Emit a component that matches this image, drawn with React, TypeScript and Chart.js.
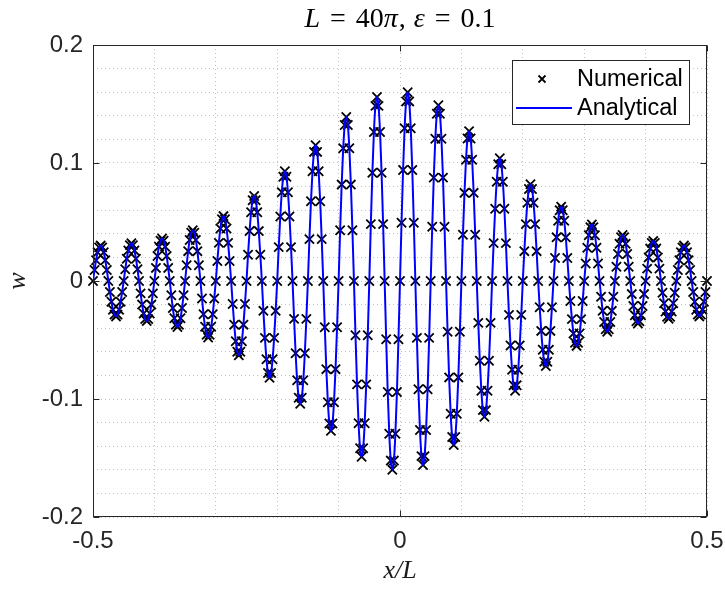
import React, { useEffect, useRef } from 'react';
import { Chart, registerables } from 'chart.js';

Chart.register(...registerables);

// Sample grid along x/L (uniform sampling of the numerical solution)
const xStart = -0.5;
const xStep = 0.0025;

// w values, one row per half-wave
const wValues: number[] = [
  0, 0.0093, 0.0176, 0.0243, 0.0285, 0.0300, 0.0285, 0.0243, 0.0176, 0.0093,
  0, -0.0093, -0.0176, -0.0243, -0.0285, -0.0300, -0.0285, -0.0243, -0.0176, -0.0093,
  0, 0.0099, 0.0188, 0.0259, 0.0304, 0.0320, 0.0304, 0.0259, 0.0188, 0.0099,
  0, -0.0105, -0.0200, -0.0275, -0.0323, -0.0340, -0.0323, -0.0275, -0.0200, -0.0105,
  0, 0.0111, 0.0212, 0.0291, 0.0342, 0.0360, 0.0342, 0.0291, 0.0212, 0.0111,
  0, -0.0121, -0.0229, -0.0316, -0.0371, -0.0390, -0.0371, -0.0316, -0.0229, -0.0121,
  0, 0.0133, 0.0253, 0.0348, 0.0409, 0.0430, 0.0409, 0.0348, 0.0253, 0.0133,
  0, -0.0148, -0.0282, -0.0388, -0.0456, -0.0480, -0.0456, -0.0388, -0.0282, -0.0148,
  0, 0.0170, 0.0323, 0.0445, 0.0523, 0.0550, 0.0523, 0.0445, 0.0323, 0.0170,
  0, -0.0195, -0.0370, -0.0510, -0.0599, -0.0630, -0.0599, -0.0510, -0.0370, -0.0195,
  0, 0.0222, 0.0423, 0.0582, 0.0685, 0.0720, 0.0685, 0.0582, 0.0423, 0.0222,
  0, -0.0253, -0.0482, -0.0663, -0.0780, -0.0820, -0.0780, -0.0663, -0.0482, -0.0253,
  0, 0.0287, 0.0547, 0.0752, 0.0884, 0.0930, 0.0884, 0.0752, 0.0547, 0.0287,
  0, -0.0321, -0.0612, -0.0841, -0.0989, -0.1040, -0.0989, -0.0841, -0.0612, -0.0321,
  0, 0.0355, 0.0676, 0.0930, 0.1094, 0.1150, 0.1094, 0.0930, 0.0676, 0.0355,
  0, -0.0392, -0.0747, -0.1027, -0.1208, -0.1270, -0.1208, -0.1027, -0.0747, -0.0392,
  0, 0.0430, 0.0817, 0.1125, 0.1322, 0.1390, 0.1322, 0.1125, 0.0817, 0.0430,
  0, -0.0460, -0.0876, -0.1205, -0.1417, -0.1490, -0.1417, -0.1205, -0.0876, -0.0460,
  0, 0.0482, 0.0917, 0.1262, 0.1484, 0.1560, 0.1484, 0.1262, 0.0917, 0.0482,
  0, -0.0494, -0.0941, -0.1294, -0.1522, -0.1600, -0.1522, -0.1294, -0.0941, -0.0494,
  0, 0.0494, 0.0941, 0.1294, 0.1522, 0.1600, 0.1522, 0.1294, 0.0941, 0.0494,
  0, -0.0482, -0.0917, -0.1262, -0.1484, -0.1560, -0.1484, -0.1262, -0.0917, -0.0482,
  0, 0.0460, 0.0876, 0.1205, 0.1417, 0.1490, 0.1417, 0.1205, 0.0876, 0.0460,
  0, -0.0430, -0.0817, -0.1125, -0.1322, -0.1390, -0.1322, -0.1125, -0.0817, -0.0430,
  0, 0.0392, 0.0747, 0.1027, 0.1208, 0.1270, 0.1208, 0.1027, 0.0747, 0.0392,
  0, -0.0355, -0.0676, -0.0930, -0.1094, -0.1150, -0.1094, -0.0930, -0.0676, -0.0355,
  0, 0.0321, 0.0612, 0.0841, 0.0989, 0.1040, 0.0989, 0.0841, 0.0612, 0.0321,
  0, -0.0287, -0.0547, -0.0752, -0.0884, -0.0930, -0.0884, -0.0752, -0.0547, -0.0287,
  0, 0.0253, 0.0482, 0.0663, 0.0780, 0.0820, 0.0780, 0.0663, 0.0482, 0.0253,
  0, -0.0222, -0.0423, -0.0582, -0.0685, -0.0720, -0.0685, -0.0582, -0.0423, -0.0222,
  0, 0.0195, 0.0370, 0.0510, 0.0599, 0.0630, 0.0599, 0.0510, 0.0370, 0.0195,
  0, -0.0170, -0.0323, -0.0445, -0.0523, -0.0550, -0.0523, -0.0445, -0.0323, -0.0170,
  0, 0.0148, 0.0282, 0.0388, 0.0456, 0.0480, 0.0456, 0.0388, 0.0282, 0.0148,
  0, -0.0133, -0.0253, -0.0348, -0.0409, -0.0430, -0.0409, -0.0348, -0.0253, -0.0133,
  0, 0.0121, 0.0229, 0.0316, 0.0371, 0.0390, 0.0371, 0.0316, 0.0229, 0.0121,
  0, -0.0111, -0.0212, -0.0291, -0.0342, -0.0360, -0.0342, -0.0291, -0.0212, -0.0111,
  0, 0.0105, 0.0200, 0.0275, 0.0323, 0.0340, 0.0323, 0.0275, 0.0200, 0.0105,
  0, -0.0099, -0.0188, -0.0259, -0.0304, -0.0320, -0.0304, -0.0259, -0.0188, -0.0099,
  0, 0.0093, 0.0176, 0.0243, 0.0285, 0.0300, 0.0285, 0.0243, 0.0176, 0.0093,
  0, -0.0093, -0.0176, -0.0243, -0.0285, -0.0300, -0.0285, -0.0243, -0.0176, -0.0093,
  0,
];

const xTickValues = [-0.5, 0, 0.5];
const xTickLabels = ['-0.5', '0', '0.5'];
const yTickValues = [-0.2, -0.1, 0, 0.1, 0.2];
const yTickLabels = ['-0.2', '-0.1', '0', '0.1', '0.2'];
const seriesNames = ['Numerical', 'Analytical'];
const titleParts: { t: string; it: boolean; gap: number }[] = [
  { t: 'L', it: true, gap: 10 },
  { t: '=', it: false, gap: 10 },
  { t: '40', it: false, gap: 0 },
  { t: 'π', it: true, gap: 1 },
  { t: ',', it: false, gap: 8 },
  { t: 'ε', it: true, gap: 10 },
  { t: '=', it: false, gap: 10 },
  { t: '0.1', it: false, gap: 0 },
];

const AXIS_COLOR = '#262626';
const LINE_COLOR = '#0000ff';
const SANS = '"Liberation Sans", Arial, sans-serif';
const SERIF = '"Liberation Serif", "DejaVu Serif", serif';

function matchIndex(list: number[], v: number) {
  return list.findIndex((t) => Math.abs(t - v) < 1e-6);
}

const decorPlugin = {
  id: 'decor',
  afterDraw(chart: any) {
    const { ctx, chartArea: a, scales } = chart;
    ctx.save();
    // Box
    const L = Math.round(a.left) + 0.5;
    const R = Math.round(a.right) - 0.5;
    const T = Math.round(a.top) + 0.5;
    const B = Math.round(a.bottom) - 0.5;
    ctx.strokeStyle = AXIS_COLOR;
    ctx.lineWidth = 1;
    ctx.setLineDash([]);
    ctx.strokeRect(L, T, R - L, B - T);
    // Ticks (inside)
    const tl = 6;
    ctx.beginPath();
    xTickValues.forEach((v) => {
      const px = Math.round(scales.x.getPixelForValue(v)) + 0.5;
      ctx.moveTo(px, B);
      ctx.lineTo(px, B - tl);
      ctx.moveTo(px, T);
      ctx.lineTo(px, T + tl);
    });
    yTickValues.forEach((v) => {
      const py = Math.round(scales.y.getPixelForValue(v)) + 0.5;
      ctx.moveTo(L, py);
      ctx.lineTo(L + tl, py);
      ctx.moveTo(R, py);
      ctx.lineTo(R - tl, py);
    });
    ctx.stroke();

    // Title
    const tSize = 28;
    const fontFor = (it: boolean) => `${it ? 'italic ' : ''}${tSize}px ${SERIF}`;
    let total = 0;
    titleParts.forEach((p) => {
      ctx.font = fontFor(p.it);
      total += ctx.measureText(p.t).width + p.gap;
    });
    let tx = (a.left + a.right) / 2 - total / 2;
    ctx.fillStyle = '#000';
    ctx.textBaseline = 'alphabetic';
    ctx.textAlign = 'left';
    titleParts.forEach((p) => {
      ctx.font = fontFor(p.it);
      ctx.fillText(p.t, tx, 27);
      tx += ctx.measureText(p.t).width + p.gap;
    });

    // Legend
    const lx = 512, ly = 60, lw = 177, lh = 64;
    ctx.fillStyle = '#fff';
    ctx.fillRect(lx, ly, lw, lh);
    ctx.strokeStyle = AXIS_COLOR;
    ctx.lineWidth = 1;
    ctx.strokeRect(lx + 0.5, ly + 0.5, lw, lh);
    const r1 = 79, r2 = 108;
    // marker
    ctx.strokeStyle = '#000';
    ctx.lineWidth = 1.8;
    ctx.beginPath();
    ctx.moveTo(542 - 3.5, r1 - 3.5);
    ctx.lineTo(542 + 3.5, r1 + 3.5);
    ctx.moveTo(542 - 3.5, r1 + 3.5);
    ctx.lineTo(542 + 3.5, r1 - 3.5);
    ctx.stroke();
    // line sample
    ctx.strokeStyle = LINE_COLOR;
    ctx.lineWidth = 2;
    ctx.beginPath();
    ctx.moveTo(516, r2);
    ctx.lineTo(572, r2);
    ctx.stroke();
    ctx.fillStyle = '#000';
    ctx.font = `23.5px ${SANS}`;
    ctx.textBaseline = 'middle';
    ctx.fillText(seriesNames[0], 577, r1 + 1);
    ctx.fillText(seriesNames[1], 577, r2 + 1);
    ctx.restore();
  },
};

export default function App() {
  const ref = useRef<HTMLCanvasElement>(null);
  useEffect(() => {
    const canvas = ref.current;
    if (!canvas) return;
    const points = wValues.map((w, i) => ({ x: +(xStart + i * xStep).toFixed(4), y: w }));
    const chart = new Chart(canvas, {
      type: 'line',
      data: {
        datasets: [
          {
            label: seriesNames[1],
            data: points,
            borderColor: LINE_COLOR,
            borderWidth: 2,
            pointRadius: 0,
            cubicInterpolationMode: 'monotone',
            fill: false,
            order: 0,
          },
          {
            label: seriesNames[0],
            data: points,
            showLine: false,
            pointStyle: 'crossRot',
            pointRadius: 6.5,
            pointBorderColor: '#000',
            pointBackgroundColor: '#000',
            pointBorderWidth: 1.8,
            borderColor: '#000',
            clip: false as any,
            order: 1,
          },
        ],
      },
      options: {
        animation: false,
        responsive: false,
        devicePixelRatio: 1,
        events: [],
        layout: { padding: { top: 45, right: 18, left: 0, bottom: 0 } },
        plugins: {
          legend: { display: false },
          tooltip: { enabled: false },
          title: { display: false },
        },
        scales: {
          x: {
            type: 'linear',
            min: -0.5,
            max: 0.5,
            afterFit: (s: any) => {
              s.height = 73;
              s.paddingLeft = 0;
              s.paddingRight = 0;
            },
            ticks: {
              stepSize: 0.1,
              autoSkip: false,
              maxRotation: 0,
              padding: 10,
              color: AXIS_COLOR,
              font: { family: SANS, size: 24 },
              callback: (v: any) => {
                const i = matchIndex(xTickValues, Number(v));
                return i >= 0 ? xTickLabels[i] : '';
              },
            },
            grid: { color: 'rgba(0,0,0,0.25)', lineWidth: 1, drawTicks: false },
            border: { display: false, dash: [1, 3] },
            title: {
              display: true,
              text: 'x/L',
              color: '#1a1a1a',
              font: { family: SERIF, size: 26, style: 'italic' },
              padding: { top: 0, bottom: 3 },
            },
          },
          y: {
            type: 'linear',
            min: -0.2,
            max: 0.2,
            afterFit: (s: any) => {
              s.width = 93;
              s.paddingTop = 0;
              s.paddingBottom = 0;
            },
            ticks: {
              stepSize: 0.02,
              autoSkip: false,
              padding: 10,
              color: AXIS_COLOR,
              font: { family: SANS, size: 24 },
              callback: (v: any) => {
                const i = matchIndex(yTickValues, Number(v));
                return i >= 0 ? yTickLabels[i] : '';
              },
            },
            grid: { color: 'rgba(0,0,0,0.25)', lineWidth: 1, drawTicks: false },
            border: { display: false, dash: [1, 3] },
            title: {
              display: true,
              text: 'w',
              color: '#1a1a1a',
              font: { family: SERIF, size: 26, style: 'italic' },
              padding: { top: 3, bottom: 0 },
            },
          },
        },
      },
      plugins: [decorPlugin],
    } as any);
    return () => chart.destroy();
  }, []);
  return (
    <div style={{ position: 'fixed', left: 0, top: 0, width: 725, height: 590, background: '#fff' }}>
      <canvas ref={ref} width={725} height={590} style={{ display: 'block', width: 725, height: 590 }} />
    </div>
  );
}
